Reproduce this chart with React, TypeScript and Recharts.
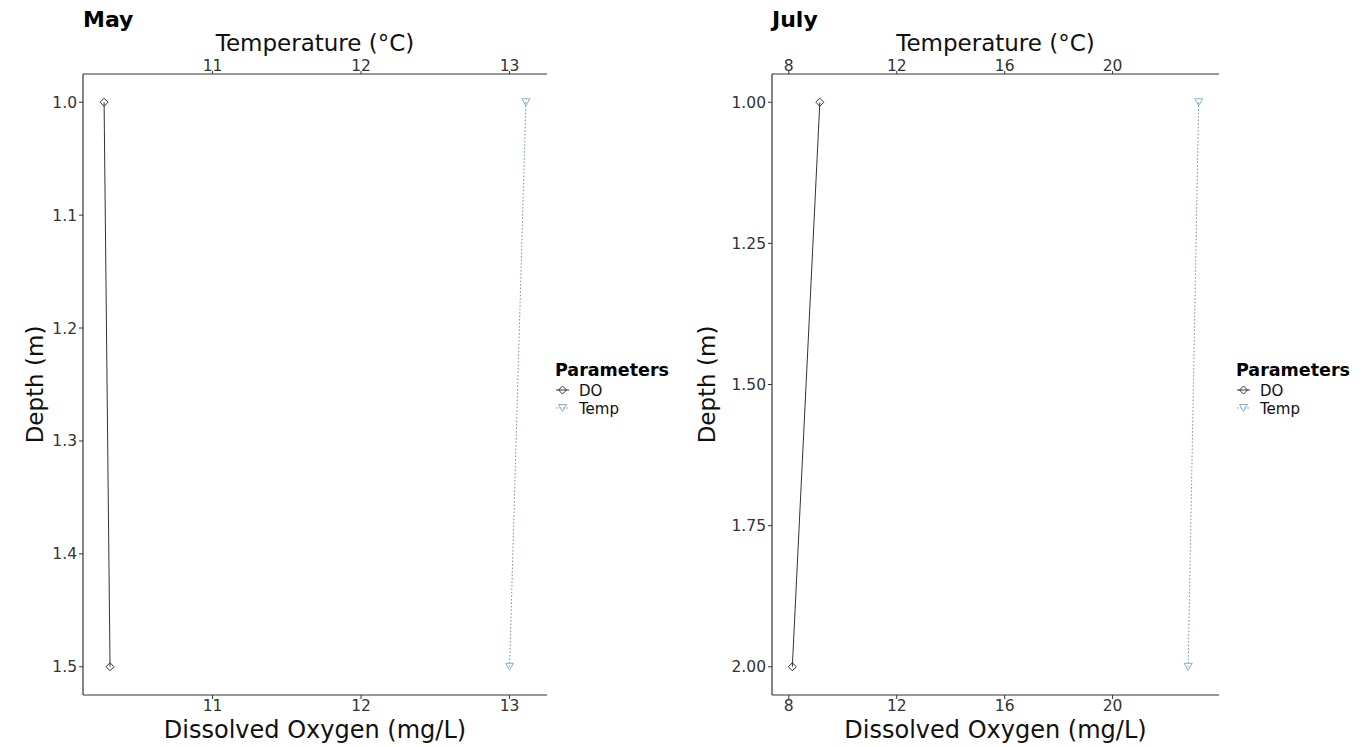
import React from 'react';
import { ComposedChart, Scatter, XAxis, YAxis, Label } from 'recharts';

// ---------- data ----------
const mayDepth = [1.0, 1.5];
const mayDO = [10.27, 10.31];
const mayTemp = [13.11, 13.0];
const mayXTicks = [11, 12, 13];
const mayDepthTicks = [1.0, 1.1, 1.2, 1.3, 1.4, 1.5];

const julyDepth = [1.0, 2.0];
const julyDO = [9.15, 8.13];
const julyTemp = [23.19, 22.8];
const julyXTicks = [8, 12, 16, 20];
const julyDepthTicks = [1.0, 1.25, 1.5, 1.75, 2.0];

const legendTitle = 'Parameters';
const paramNames = ['DO', 'Temp'];
const topAxisTitle = 'Temperature (°C)';
const bottomAxisTitle = 'Dissolved Oxygen (mg/L)';
const depthAxisTitle = 'Depth (m)';

// ---------- style ----------
const FONT = "'DejaVu Sans', sans-serif";
const AXIS = '#333333';
const DO_COLOR = '#333333';
const TEMP_LINE = '#6f8fb0';
const TEMP_MARK = '#86acd0';

function expand(vals: number[]): [number, number] {
  const lo = Math.min(...vals);
  const hi = Math.max(...vals);
  const pad = (hi - lo) * 0.05;
  return [lo - pad, hi + pad];
}

const Diamond = (props: any) => {
  const { cx, cy } = props;
  if (cx == null || cy == null) return null;
  const r = 4;
  return (
    <polygon
      points={`${cx},${cy - r} ${cx + r},${cy} ${cx},${cy + r} ${cx - r},${cy}`}
      fill="none"
      stroke={DO_COLOR}
      strokeWidth={1}
    />
  );
};

const TriDown = (props: any) => {
  const { cx, cy } = props;
  if (cx == null || cy == null) return null;
  return (
    <polygon
      points={`${cx - 4},${cy - 3.5} ${cx + 4},${cy - 3.5} ${cx},${cy + 3.5}`}
      fill="none"
      stroke={TEMP_MARK}
      strokeWidth={1}
    />
  );
};

type PanelProps = {
  left: number;
  title: string;
  titleX: number;
  depth: number[];
  doVals: number[];
  tempVals: number[];
  xTicks: number[];
  yTicks: number[];
  yDec: number;
  yAxisWidth: number;
  marginRight: number;
  yLabelX: number;
  legendX: number;
};

function Panel(p: PanelProps) {
  const doData = p.depth.map((d, i) => ({ depth: d, value: p.doVals[i] }));
  const tempData = p.depth.map((d, i) => ({ depth: d, value: p.tempVals[i] }));
  const xDomain = expand([...p.doVals, ...p.tempVals]);
  const yDomain = expand(p.depth);
  const tickStyle = { fontSize: 15.5, fill: AXIS, fontFamily: FONT };

  return (
    <div style={{ position: 'absolute', left: p.left, top: 0, width: 681, height: 747 }}>
      <ComposedChart
        width={681}
        height={747}
        margin={{ top: 0, right: p.marginRight, bottom: 0, left: 0 }}
      >
        <XAxis
          xAxisId="temp"
          orientation="top"
          type="number"
          dataKey="value"
          domain={xDomain}
          allowDataOverflow
          ticks={p.xTicks}
          height={74}
          tickSize={3}
          tickMargin={0}
          tick={tickStyle}
          axisLine={{ stroke: AXIS, strokeWidth: 1.2 }}
          tickLine={{ stroke: AXIS }}
        >
          <Label
            content={(lp: any) => {
              const vb = lp.viewBox || {};
              return (
                <text
                  x={vb.x + vb.width / 2}
                  y={vb.y + 50.5}
                  textAnchor="middle"
                  fontSize={23}
                  fontFamily={FONT}
                  fill="#111"
                >
                  {topAxisTitle}
                </text>
              );
            }}
          />
        </XAxis>
        <XAxis
          xAxisId="do"
          orientation="bottom"
          type="number"
          dataKey="value"
          domain={xDomain}
          allowDataOverflow
          ticks={p.xTicks}
          height={52}
          tickSize={4}
          tickMargin={1}
          tick={tickStyle}
          axisLine={{ stroke: AXIS, strokeWidth: 1.2 }}
          tickLine={{ stroke: AXIS }}
        >
          <Label
            content={(lp: any) => {
              const vb = lp.viewBox || {};
              return (
                <text
                  x={vb.x + vb.width / 2}
                  y={vb.y + 43}
                  textAnchor="middle"
                  fontSize={24}
                  fontFamily={FONT}
                  fill="#111"
                >
                  {bottomAxisTitle}
                </text>
              );
            }}
          />
        </XAxis>
        <YAxis
          yAxisId="depth"
          type="number"
          dataKey="depth"
          reversed
          domain={yDomain}
          allowDataOverflow
          ticks={p.yTicks}
          width={p.yAxisWidth}
          tickSize={4}
          tickMargin={2}
          tick={tickStyle}
          tickFormatter={(v: number) => v.toFixed(p.yDec)}
          axisLine={{ stroke: AXIS, strokeWidth: 1.2 }}
          tickLine={{ stroke: AXIS }}
        >
          <Label
            content={(lp: any) => {
              const vb = lp.viewBox || {};
              const cy = vb.y + vb.height / 2;
              return (
                <text
                  x={p.yLabelX}
                  y={cy}
                  transform={`rotate(-90 ${p.yLabelX} ${cy})`}
                  textAnchor="middle"
                  fontSize={23}
                  fontFamily={FONT}
                  fill="#111"
                >
                  {depthAxisTitle}
                </text>
              );
            }}
          />
        </YAxis>
        <Scatter
          name={paramNames[0]}
          data={doData}
          xAxisId="do"
          yAxisId="depth"
          fill={DO_COLOR}
          line={{ stroke: DO_COLOR, strokeWidth: 1 }}
          lineType="joint"
          shape={Diamond}
          isAnimationActive={false}
        />
        <Scatter
          name={paramNames[1]}
          data={tempData}
          xAxisId="temp"
          yAxisId="depth"
          fill={TEMP_MARK}
          line={{ stroke: TEMP_LINE, strokeWidth: 1, strokeDasharray: '1.5 2' }}
          lineType="joint"
          shape={TriDown}
          isAnimationActive={false}
        />
      </ComposedChart>
      <svg
        width={681}
        height={747}
        style={{ position: 'absolute', left: 0, top: 0, pointerEvents: 'none' }}
      >
        <text
          x={p.titleX}
          y={27}
          fontSize={22}
          fontWeight="bold"
          fontFamily={FONT}
          fill="#000"
        >
          {p.title}
        </text>
        <text
          x={p.legendX}
          y={375.5}
          fontSize={17.5}
          fontWeight="bold"
          fontFamily={FONT}
          fill="#000"
        >
          {legendTitle}
        </text>
        {/* DO key */}
        <line x1={p.legendX + 1} x2={p.legendX + 14} y1={390} y2={390} stroke={DO_COLOR} strokeWidth={1} />
        <Diamond cx={p.legendX + 7.5} cy={390} />
        <text x={p.legendX + 24} y={396} fontSize={15} fontFamily={FONT} fill="#111">
          {paramNames[0]}
        </text>
        {/* Temp key */}
        <line
          x1={p.legendX + 1}
          x2={p.legendX + 14}
          y1={408}
          y2={408}
          stroke={TEMP_LINE}
          strokeWidth={1}
          strokeDasharray="1.5 2"
        />
        <TriDown cx={p.legendX + 7.5} cy={408} />
        <text x={p.legendX + 24} y={414} fontSize={15} fontFamily={FONT} fill="#111">
          {paramNames[1]}
        </text>
      </svg>
    </div>
  );
}

export default function App() {
  return (
    <div
      style={{
        position: 'absolute',
        left: 0,
        top: 0,
        width: 1362,
        height: 747,
        background: '#ffffff',
        fontFamily: FONT,
        overflow: 'hidden',
      }}
    >
      <Panel
        left={0}
        title="May"
        titleX={83}
        depth={mayDepth}
        doVals={mayDO}
        tempVals={mayTemp}
        xTicks={mayXTicks}
        yTicks={mayDepthTicks}
        yDec={1}
        yAxisWidth={83}
        marginRight={134}
        yLabelX={43}
        legendX={555}
      />
      <Panel
        left={681}
        title="July"
        titleX={91}
        depth={julyDepth}
        doVals={julyDO}
        tempVals={julyTemp}
        xTicks={julyXTicks}
        yTicks={julyDepthTicks}
        yDec={2}
        yAxisWidth={91}
        marginRight={143}
        yLabelX={34}
        legendX={555}
      />
    </div>
  );
}
